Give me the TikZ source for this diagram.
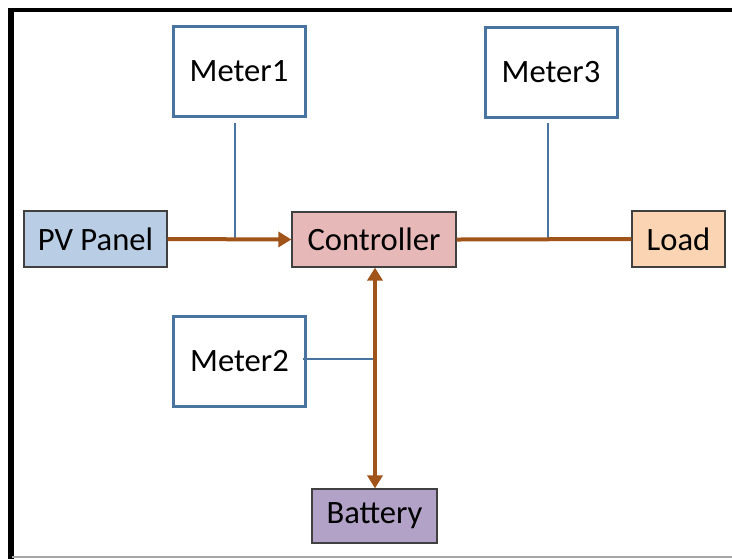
\documentclass[tikz,border=0pt]{standalone}
\usepackage{fontspec}
\setmainfont{Carlito}
\usetikzlibrary{arrows.meta}
\definecolor{brownline}{HTML}{A0541A}
\definecolor{blueline}{HTML}{4A74A0}
\definecolor{pvfill}{HTML}{B9CDE5}
\definecolor{ctrlfill}{HTML}{E6B9B8}
\definecolor{loadfill}{HTML}{FBD4B4}
\definecolor{batfill}{HTML}{B3A2C7}
\definecolor{boxedge}{HTML}{404040}
\begin{document}
\begin{tikzpicture}[x=0.5pt,y=-0.5pt,
  meterbox/.style={draw=blueline, line width=1.5pt, fill=white, minimum width=66pt, minimum height=45pt, inner sep=0pt, font=\fontsize{16.3}{19}\selectfont},
  unitbox/.style={draw=boxedge, line width=0.6pt, minimum height=28pt, inner sep=0pt, font=\fontsize{16.3}{19}\selectfont},
  power/.style={draw=brownline, line width=2pt},
  tap/.style={draw=blueline, line width=1.1pt},
  tip/.style={-{Triangle[length=6.5pt,width=7.5pt]}}]
\useasboundingbox (0,0) rectangle (732,559);
\fill[white] (0,0) rectangle (732,559);
% frame
\draw[black, line width=3pt] (11,8) -- (11,559);
\draw[black, line width=2.2pt] (9,10) -- (732,10);
\draw[gray!70, line width=1.3pt] (12,557) -- (732,557);
% nodes
\node[meterbox] (m1) at (239,71.5) {Meter1};
\node[meterbox] (m3) at (551,72) {Meter3};
\node[meterbox] (m2) at (239.5,361) {Meter2};
\node[unitbox, fill=pvfill, minimum width=71.5pt] (pv) at (95.5,239) {PV Panel};
\node[unitbox, fill=ctrlfill, minimum width=82pt, minimum height=27.5pt] (ctrl) at (374,239.5) {Controller};
\node[unitbox, fill=loadfill, minimum width=46.5pt] (load) at (678.5,239) {Load};
\node[unitbox, fill=batfill, minimum width=62.5pt, minimum height=27pt] (bat) at (374.5,516) {Battery};
% junctions
\coordinate (j1) at (235,239);
\coordinate (j3) at (548,239);
\coordinate (j2) at (375,359);
\coordinate (t1) at (235,123);
\coordinate (t3) at (548,123);
\coordinate (t2) at (303,359);
% meter taps
\draw[tap] (t1) -- (j1);
\draw[tap] (t3) -- (j3);
\draw[tap] (t2) -- (j2);
% power lines
\draw[power, tip] (pv.east) -- (ctrl.west);
\draw[power] (ctrl.east) -- (load.west);
\draw[power, {Triangle[length=6.5pt,width=7.5pt]}-{Triangle[length=6.5pt,width=7.5pt]}] (ctrl.south -| j2) -- (bat.north -| j2);
\end{tikzpicture}
\end{document}
